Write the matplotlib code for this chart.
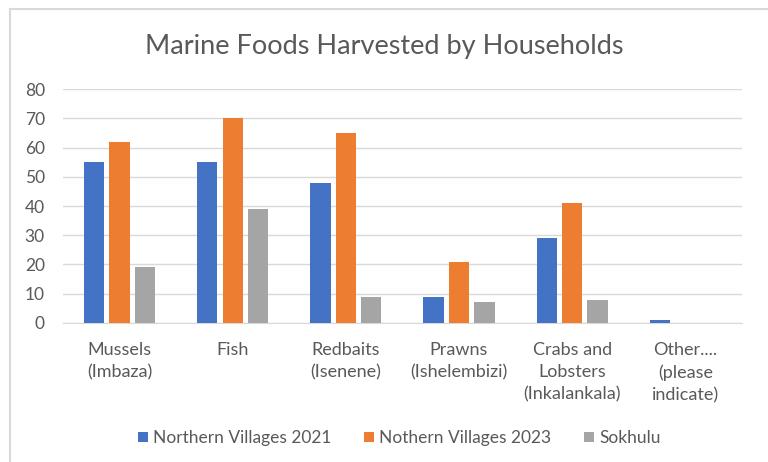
import numpy as np
import matplotlib.pyplot as plt
from matplotlib.lines import Line2D

plt.rcParams['font.family'] = ['Lato', 'DejaVu Sans']

categories = ['Mussels\n(Imbaza)', 'Fish', 'Redbaits\n(Isenene)', 'Prawns\n(Ishelembizi)',
              'Crabs and\nLobsters\n(Inkalankala)', 'Other....\n(please\nindicate)']
north_2021 = [55, 55, 48, 9, 29, 1]
north_2023 = [62, 70, 65, 21, 41, 0]
sokhulu = [19, 39, 9, 7, 8, 0]
series_names = ['Northern Villages 2021', 'Nothern Villages 2023', 'Sokhulu']
colors = ['#4472C4', '#ED7D31', '#A5A5A5']
grey_text = '#595959'

fig = plt.figure(figsize=(7.68, 4.62), dpi=100)
ax = fig.add_axes([0.082, 0.301, 0.884, 0.506])

x = np.arange(len(categories))
w = 0.18
step = 0.225
for i, vals in enumerate([north_2021, north_2023, sokhulu]):
    ax.bar(x + (i - 1) * step, vals, width=w, color=colors[i], label=series_names[i], zorder=3)

ax.set_xlim(-0.5, len(categories) - 0.5)
ax.set_ylim(0, 80)
ax.set_yticks(range(0, 81, 10))
ax.grid(axis='y', color='#D9D9D9', linewidth=1, zorder=0)
for s in ['top', 'right', 'left']:
    ax.spines[s].set_visible(False)
ax.spines['bottom'].set_color('#D9D9D9')
ax.tick_params(axis='both', length=0, colors=grey_text, labelsize=12.5)
ax.tick_params(axis='y', pad=13)
ax.tick_params(axis='x', pad=14, labelsize=13)
ax.set_xticks(x)
ax.set_xticklabels(categories, linespacing=1.45)

fig.text(0.5, 0.9, 'Marine Foods Harvested by Households', ha='center', va='center',
         fontsize=19.5, color=grey_text)

fig.legend(loc='center', bbox_to_anchor=(0.52, 0.052), ncol=3, frameon=False,
           fontsize=12.5, labelcolor=grey_text, handlelength=0.55, handleheight=0.55,
           handletextpad=0.3, columnspacing=1.9)

# chart border (top and left edges visible)
fig.add_artist(Line2D([0.013, 0.013], [0, 0.98], color='#D9D9D9', linewidth=1.5, transform=fig.transFigure))
fig.add_artist(Line2D([0.013, 1.0], [0.98, 0.98], color='#D9D9D9', linewidth=1.5, transform=fig.transFigure))

fig.savefig('out.png', dpi=100)
